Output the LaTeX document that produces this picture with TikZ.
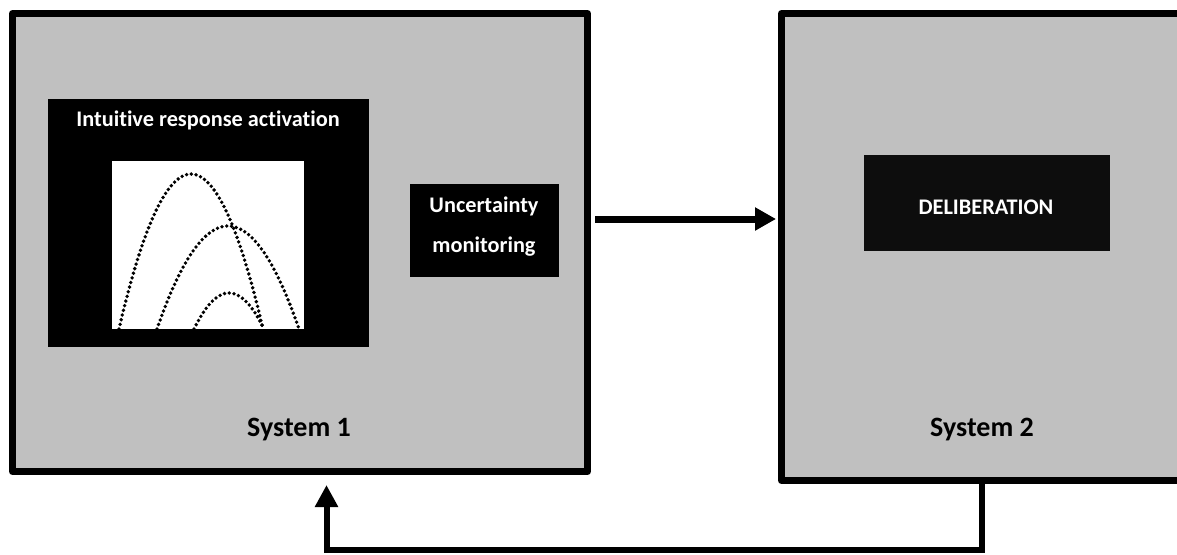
\documentclass[tikz,border=0pt]{standalone}
\usepackage{fontspec}
\setmainfont{Carlito}[Ligatures=NoCommon]
\usetikzlibrary{arrows.meta,calc}
\definecolor{sysgray}{HTML}{C0C0C0}
\definecolor{delib}{HTML}{0D0D0D}
\tikzset{
  sysbox/.style={draw=black, fill=sysgray, line width=7pt, inner sep=0pt, line join=round},
  blackbox/.style={fill=black, draw=none, inner sep=0pt},
  wtext/.style={text=white, font=\bfseries\fontsize{22.3}{26}\selectfont, inner sep=0pt, anchor=base},
  systext/.style={text=black, font=\bfseries\fontsize{28}{32}\selectfont, inner sep=0pt, anchor=base},
  dotcurve/.style={line width=3.8pt, line cap=round, dash pattern=on 0pt off 4.8pt},
  arr/.style={line width=7pt, -{Triangle[length=21pt,width=22pt]}},
  fbarr/.style={line width=6pt, -{Triangle[length=22pt,width=22pt]}},
}
\begin{document}
\begin{tikzpicture}[x=1pt,y=-1pt]
\useasboundingbox (0,0) rectangle (1177,554);
% System boxes
\node[sysbox, minimum width=575pt, minimum height=458pt] (box1) at (300,242.5) {};
\node[sysbox, minimum width=420pt, minimum height=467pt] (box2) at (991.5,247) {};
% Intuitive response activation
\node[blackbox, minimum width=321pt, minimum height=248pt] (intu) at (208.5,223) {};
\node[wtext] (intut) at (208,126) {Intuitive response activation};
\node[fill=white, draw=none, inner sep=0pt, minimum width=192pt, minimum height=168pt] (sq) at (208,244.5) {};
\begin{scope}
\clip (sq.south west) rectangle (sq.north east);
\draw[dotcurve] plot[domain=-1:1, samples=80] ({191+72*\x},{174+155*\x*\x});
\draw[dotcurve] plot[domain=-1:1, samples=80] ({228+71*\x},{226+103*\x*\x});
\draw[dotcurve] plot[domain=-1:1, samples=60] ({229+35*\x},{293+36*\x*\x});
\end{scope}
% Uncertainty monitoring
\node[blackbox, minimum width=149pt, minimum height=93pt] (unc) at (484.5,230.5) {};
\node[wtext] (unct1) at (484,212) {Uncertainty};
\node[wtext] (unct2) at (484,252) {monitoring};
% Deliberation
\node[blackbox, fill=delib, minimum width=246pt, minimum height=96pt] (del) at (987,203) {};
\node[wtext] (delt) at (986,214) {DELIBERATION};
% System labels
\node[systext] (s1) at (299,436) {System 1};
\node[systext] (s2) at (982,436) {System 2};
% Arrows
\coordinate (ay) at (0,219);
\draw[arr] ([xshift=4pt]box1.east |- ay) -- ([xshift=-2pt]box2.west |- ay);
\coordinate (fb) at (326.5,550);
\draw[fbarr, line join=miter, shorten >=10pt] ([xshift=-9.5pt,yshift=1pt]box2.south) |- (fb) -- (fb |- box1.south);
\end{tikzpicture}
\end{document}
